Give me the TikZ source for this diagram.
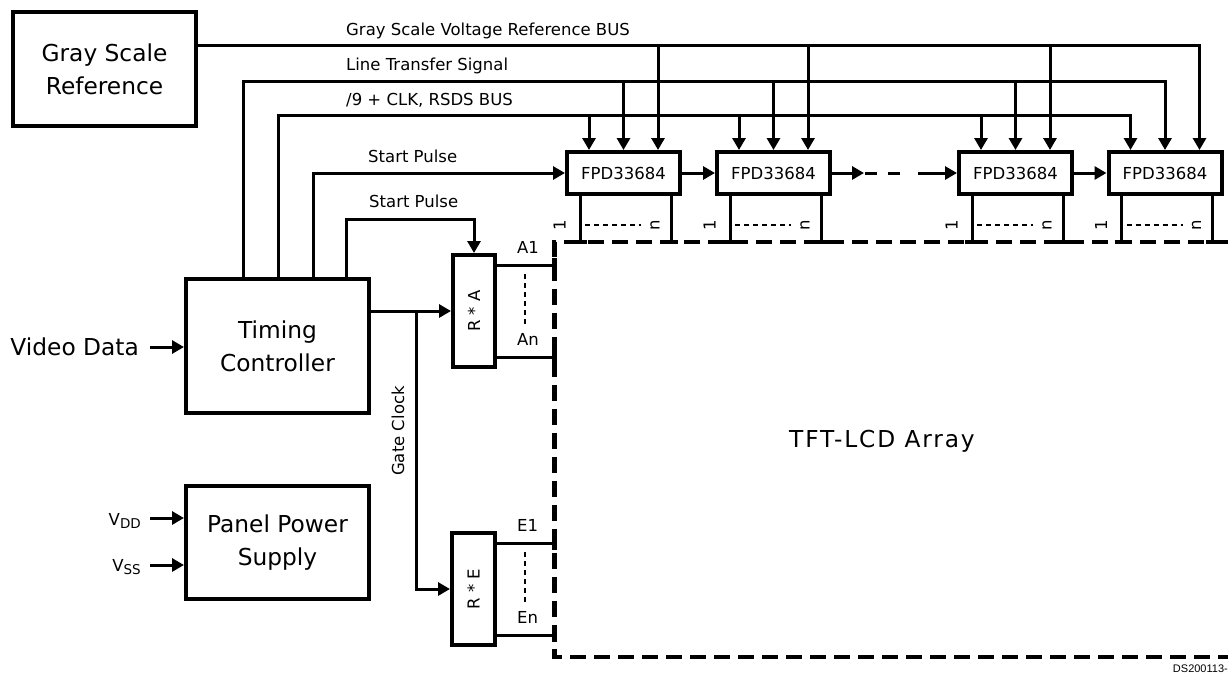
\documentclass[tikz,border=0pt]{standalone}
\usepackage{fontspec}
\setmainfont{DejaVu Sans}
\newfontfamily\arialf{Liberation Sans}
\usetikzlibrary{arrows.meta,calc}
\newcommand{\subtxt}[1]{\raisebox{-3.5pt}{\fontsize{13.5}{14}\selectfont #1}}
\begin{document}
\begin{tikzpicture}[x=1pt,y=-1pt,
  box/.style={draw,line width=4pt,inner sep=0pt,align=center},
  big/.style={font=\fontsize{23.3}{33}\selectfont,align=center},
  small/.style={font=\fontsize{16.5}{20}\selectfont},
  lbl/.style={small,inner sep=0pt},
  wire/.style={line width=3pt},
  arr/.style={wire,-{Triangle[length=12pt,width=13pt]}},
  border/.style={line width=4.8pt,dash pattern=on 16pt off 8pt},
  dots/.style={line width=1.6pt,dash pattern=on 5pt off 4pt},
  tick/.style={line width=4.5pt}]
\useasboundingbox (0,0) rectangle (1228,673);

% blocks
\node[box,big,minimum width=183,minimum height=114] (gsr) at (104.5,69) {Gray Scale\\Reference};
\node[box,big,minimum width=183,minimum height=134] (tc) at (277.5,346) {Timing\\Controller};
\node[box,big,minimum width=183,minimum height=113] (pps) at (277.5,542.5) {Panel Power\\Supply};
\node[box,small,minimum width=42,minimum height=112] (ra) at (474,311) {\rotatebox{90}{R * A}};
\node[box,small,minimum width=43,minimum height=112] (re) at (473.5,589) {\rotatebox{90}{R * E}};
\node[box,small,minimum width=113,minimum height=42] (fpd1) at (623.5,173) {FPD33684};
\node[box,small,minimum width=113,minimum height=42] (fpd2) at (773.5,173) {FPD33684};
\node[box,small,minimum width=113,minimum height=42] (fpd3) at (1015.5,173) {FPD33684};
\node[box,small,minimum width=113,minimum height=42] (fpd4) at (1165,173) {FPD33684};
\node[big] (tft) at (882,441) {\addfontfeatures{LetterSpace=8}TFT-LCD Array};

% TFT array border
\coordinate (tl) at (554.5,242);
\coordinate (bl) at (554.5,657);
\coordinate (tr) at (1228,242);
\coordinate (br) at (1228,657);
\draw[border] (tr) -- (tl) -- (bl) -- (br);

% bus labels
\node[lbl,anchor=base west] (lgs) at (346,35) {Gray Scale Voltage Reference BUS};
\node[lbl,anchor=base west] (llt) at (346,70) {Line Transfer Signal};
\node[lbl,anchor=base west] (lrs) at (346,105) {/9 + CLK, RSDS BUS};
\node[lbl,anchor=base west] (lsp1) at (368,162) {Start Pulse};
\node[lbl,anchor=base west] (lsp2) at (369,207) {Start Pulse};

% buses
\coordinate (gsy) at (0,45);
\coordinate (lty) at (243,81);
\coordinate (rsy) at (278,115);
\coordinate (sp1) at (313,173);
\coordinate (sp2) at (346,219);
\foreach \f in {fpd1,fpd2,fpd3,fpd4}{
  \coordinate (g\f) at ($(\f.north)+(34.5,0)$);
  \coordinate (r\f) at ($(\f.north)+(-34.5,0)$);
}
\draw[arr] (gsr.east |- gsy) -| (gfpd4);
\draw[arr] (tc.north -| lty) -- (lty) -| (fpd4.north);
\draw[arr] (tc.north -| rsy) -- (rsy) -| (rfpd4);
\foreach \f in {fpd1,fpd2,fpd3}{
  \draw[arr] (g\f |- gsy) -- (g\f);
  \draw[arr] (\f.north |- lty) -- (\f.north);
  \draw[arr] (r\f |- rsy) -- (r\f);
}
\draw[arr] (tc.north -| sp1) |- (fpd1.west);
\draw[arr] (tc.north -| sp2) -- (sp2) -| (ra.north);

% cascade
\coordinate (c1) at (864,173);
\coordinate (c2) at (906,173);
\coordinate (c3) at (918,173);
\draw[arr] (fpd1.east) -- (fpd2.west);
\draw[arr] (fpd2.east) -- (c1);
\draw[wire,dash pattern=on 12pt off 11pt] ([xshift=1pt]c1) -- (c2);
\draw[arr] (c3) -- (fpd3.west);
\draw[arr] (fpd3.east) -- (fpd4.west);

% source driver outputs
\foreach \f in {fpd1,fpd2,fpd3,fpd4}{
  \coordinate (la\f) at ($(\f.south)+(-43.5,0)$);
  \coordinate (lb\f) at ($(\f.south)+(47.5,0)$);
  \draw[wire] (la\f) -- (la\f |- tl);
  \draw[wire] (lb\f) -- (lb\f |- tl);
  \draw[tick] ($(la\f |- tl)+(-7,0)$) -- ($(la\f |- tl)+(7,0)$);
  \draw[tick] ($(lb\f |- tl)+(-7,0)$) -- ($(lb\f |- tl)+(7,0)$);
  \node[small,rotate=90,inner sep=0pt] at ($(\f)+(-64,52)$) {1};
  \node[small,rotate=90,inner sep=0pt] at ($(\f)+(31.5,52)$) {n};
  \draw[dots] ($(\f)+(-38.5,52)$) -- ($(\f)+(17.5,52)$);
}

% timing controller outputs
\coordinate (gc) at (416,311);
\draw[arr] (tc.east |- ra.west) -- (ra.west);
\draw[arr] (gc) |- (re.west);
\node[small,rotate=90] (lgc) at (398,431) {Gate Clock};

% gate driver outputs
\foreach \g/\a/\b in {ra/A1/An,re/E1/En}{
  \coordinate (o1\g) at ([yshift=46pt]\g.east);
  \coordinate (o2\g) at ([yshift=-46pt]\g.east);
  \draw[wire] (o1\g) -- (o1\g -| tl);
  \draw[wire] (o2\g) -- (o2\g -| tl);
  \draw[tick] ($(o1\g -| tl)+(0,-7)$) -- ($(o1\g -| tl)+(0,7)$);
  \draw[tick] ($(o2\g -| tl)+(0,-7)$) -- ($(o2\g -| tl)+(0,7)$);
  \node[lbl,anchor=base west] at ($(o1\g)+(20,-12)$) {\a};
  \node[lbl,anchor=base west] at ($(o2\g)+(20,-12)$) {\b};
  \draw[dots] ($(\g.east)+(28,-37)$) -- ($(\g.east)+(28,16)$);
}

% inputs
\node[big,anchor=east,inner sep=0pt] (vd) at (139,347) {Video Data};
\draw[arr] ([xshift=11pt]vd.east) -- (tc.west |- vd.east);
\node[lbl,anchor=base east] (vdd) at (141,525) {V\subtxt{DD}};
\node[lbl,anchor=base east] (vss) at (141,571) {V\subtxt{SS}};
\coordinate (vddy) at (150,518);
\coordinate (vssy) at (150,565);
\draw[arr] (vddy) -- (vddy -| pps.west);
\draw[arr] (vssy) -- (vssy -| pps.west);

\node[font=\fontsize{11}{12}\selectfont\arialf,anchor=base east,inner sep=0pt] (ds) at (1228,672) {DS200113-};
\end{tikzpicture}
\end{document}
